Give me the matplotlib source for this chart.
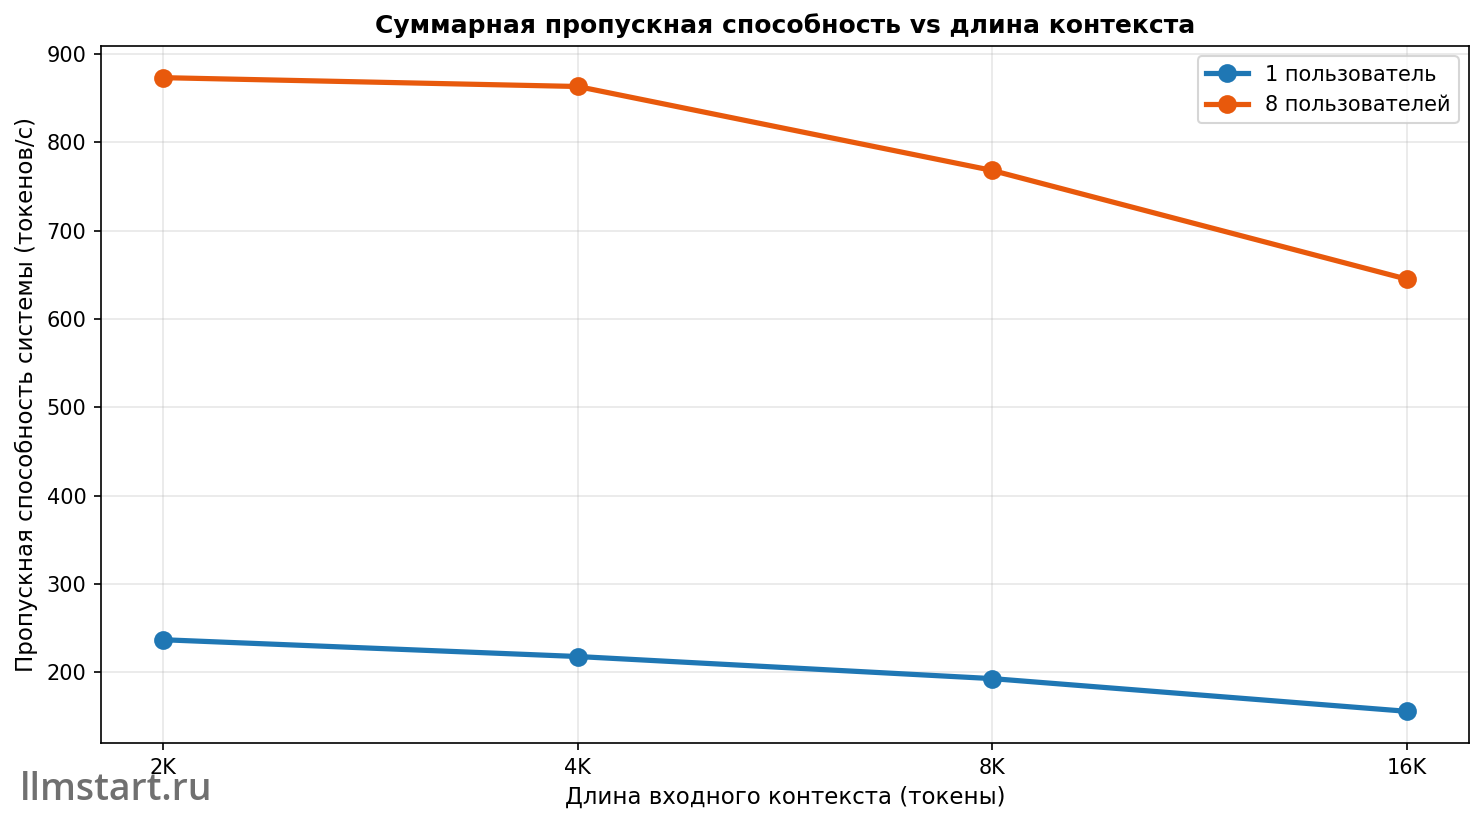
import matplotlib
matplotlib.use("Agg")
import matplotlib.pyplot as plt

# ---------------------------
# Data
# ---------------------------
contexts = ["2K", "4K", "8K", "16K"]
one_user = [237, 218, 193, 156]
eight_users = [873, 863, 768, 645]

# ---------------------------
# Plot
# ---------------------------
fig = plt.figure(figsize=(1484 / 150, 824 / 150), dpi=150)
ax = fig.add_axes([0.0681, 0.0983, 0.9218, 0.8459])

x = range(len(contexts))
ax.plot(x, one_user, marker="o", color="#1f77b4", linewidth=2.5, markersize=8, label="1 пользователь")
ax.plot(x, eight_users, marker="o", color="#e8590c", linewidth=2.5, markersize=8, label="8 пользователей")

ax.set_xticks(list(x))
ax.set_xticklabels(contexts)
ax.set_xlabel("Длина входного контекста (токены)", fontsize=11)
ax.set_ylabel("Пропускная способность системы (токенов/с)", fontsize=11)
ax.set_title("Суммарная пропускная способность vs длина контекста", fontsize=12, fontweight="bold")
ax.grid(True, alpha=0.3)
ax.legend(loc="upper right", fontsize=10)

fig.text(0.0135, 0.018, "llmstart.ru", fontsize=18, family="Open Sans", fontweight="semibold",
         color="#707070", ha="left", va="bottom")

fig.savefig("out.png", dpi=150)
